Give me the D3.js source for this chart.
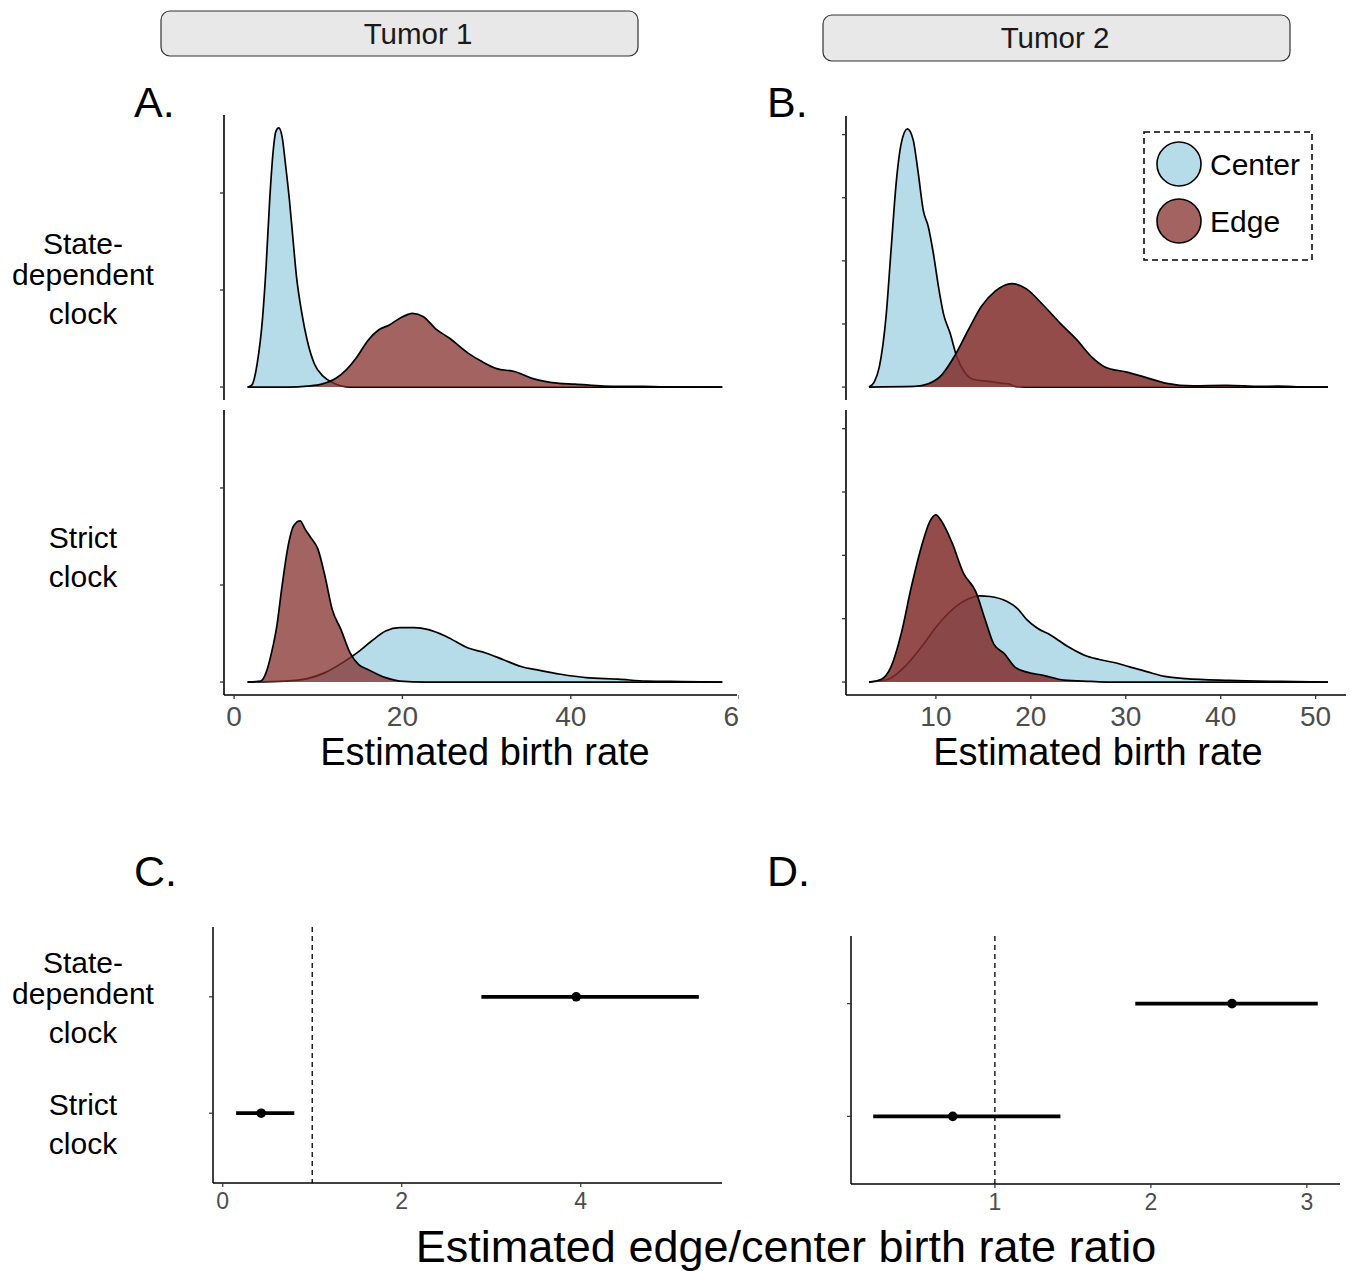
<!DOCTYPE html>
<html>
<head>
<meta charset="utf-8">
<script src="https://cdn.jsdelivr.net/npm/d3@7"></script>
<style>
  body { margin: 0; background: #fff; }
  svg { display: block; }
  text { font-family: "Liberation Sans", Arial, Helvetica, sans-serif; }
</style>
</head>
<body>
<svg id="fig" width="1351" height="1271"></svg>
<script>
// ---------- data ----------
const tumors = ["Tumor 1", "Tumor 2"];
const clocks = ["State-dependent clock", "Strict clock"];
const groups = ["Center", "Edge"];

// posterior densities of the birth rate, [rate, density]
const t1StateCenter = [[1.6,0],[2.1,0.002],[2.74,0.024],[3.39,0.072],[3.8,0.124],[4.23,0.193],[4.65,0.244],[4.95,0.263],[5.3,0.267],[5.7,0.258],[6.14,0.227],[6.57,0.193],[7.0,0.152],[7.41,0.114],[8.05,0.076],[8.69,0.048],[9.53,0.024],[10.6,0.011],[11.87,0.004],[13.8,0],[58,0]];
const t1StateEdge = [[1.6,0],[6.5,0],[8.7,0.001],[10.4,0.003],[12.1,0.009],[13.35,0.018],[14.6,0.031],[15.9,0.048],[17.2,0.059],[18.45,0.064],[19.7,0.071],[21.2,0.076],[22.5,0.0725],[23.95,0.060],[25.65,0.050],[27.8,0.035],[29.5,0.026],[31.2,0.019],[33.3,0.016],[35.4,0.009],[38.4,0.004],[40.5,0.003],[43.9,0.001],[46,0.0007],[48.6,0.0007],[51,0.0002],[58,0]];
const t1StrictCenter = [[1.6,0],[6.1,0.001],[8.7,0.0035],[10.8,0.0097],[12.9,0.020],[14.6,0.030],[16.3,0.042],[18.0,0.0525],[19.7,0.056],[21.4,0.056],[23.1,0.054],[25.2,0.047],[27.8,0.035],[29.9,0.030],[32.0,0.023],[34.1,0.016],[36.3,0.012],[38.8,0.008],[41.8,0.0045],[45.6,0.003],[49.0,0.001],[53.2,0.0005],[58,0]];
const t1StrictEdge = [[1.6,0],[3.17,0.001],[3.8,0.0097],[4.44,0.030],[5.08,0.058],[5.7,0.099],[6.35,0.137],[7.08,0.161],[7.84,0.166],[8.48,0.157],[9.1,0.149],[9.96,0.137],[10.8,0.109],[11.65,0.075],[12.7,0.054],[13.78,0.030],[14.8,0.018],[15.9,0.013],[18.0,0.0045],[19.7,0.001],[22.7,0],[58,0]];

const t2StateCenter = [[2.95,0],[3.5,0.004],[4.04,0.016],[4.75,0.056],[5.28,0.109],[5.82,0.162],[6.35,0.193],[7.0,0.2045],[7.6,0.196],[8.13,0.170],[8.67,0.140],[9.2,0.127],[9.73,0.106],[10.26,0.080],[10.8,0.058],[11.5,0.0426],[12.2,0.024],[13.1,0.011],[14.0,0.006],[15.6,0.0045],[17.0,0.003],[17.7,0.0025],[18.4,0.0003],[19.5,0],[51.3,0]];
const t2StateEdge = [[2.95,0],[7.75,0.0005],[9.2,0.0026],[10.6,0.0095],[12.0,0.025],[13.4,0.045],[14.8,0.064],[16.25,0.076],[18.0,0.082],[19.5,0.078],[21.3,0.065],[23.1,0.0505],[24.9,0.037],[26.4,0.024],[27.8,0.016],[30.0,0.012],[32.1,0.0077],[34.3,0.003],[37.1,0.001],[40.6,0.0013],[44.2,0.0005],[46,0.0008],[48,0.0002],[51.3,0]];
const t2StrictCenter = [[2.95,0],[4.9,0.002],[6.7,0.012],[8.5,0.028],[10.3,0.046],[12.1,0.0595],[13.5,0.066],[14.6,0.068],[15.7,0.0675],[17.5,0.0635],[18.6,0.058],[19.6,0.049],[20.7,0.0424],[22.1,0.037],[23.9,0.028],[25.7,0.021],[27.2,0.0178],[29.0,0.015],[30.4,0.012],[32.3,0.008],[34.1,0.0045],[36.3,0.0027],[40.9,0.0013],[46.3,0.0005],[51.3,0]];
const t2StrictEdge = [[2.95,0],[4.2,0.002],[5.27,0.012],[6.34,0.038],[7.41,0.075],[8.48,0.107],[9.38,0.127],[9.98,0.132],[10.6,0.127],[11.7,0.110],[12.9,0.086],[14.2,0.0714],[15.2,0.049],[16.1,0.030],[17.2,0.0225],[18.3,0.012],[19.5,0.008],[21.3,0.0053],[23.5,0.0015],[26.3,0.0005],[28,0],[51.3,0]];

// axis ticks
const rateTicksT1 = [0, 20, 40, 60];
const rateTicksT2 = [10, 20, 30, 40, 50];
const densityTicksT1 = [0, 0.1, 0.2];
const densityTicksT2 = [0, 0.05, 0.1, 0.15, 0.2];

// edge/center birth rate ratio: median and interval, by clock
const t1RatioMid  = [3.95, 0.43];
const t1RatioLow  = [2.89, 0.15];
const t1RatioHigh = [5.32, 0.80];
const t2RatioMid  = [2.52, 0.73];
const t2RatioLow  = [1.90, 0.22];
const t2RatioHigh = [3.07, 1.42];
const ratioTicksT1 = [0, 2, 4];
const ratioTicksT2 = [1, 2, 3];
const ratioReference = 1;

// ---------- style ----------
const centerFill = "#add8e6";
const edgeFill = "#812d2a";
const tickGray = "#4d4d4d";

const svg = d3.select("#fig");
const defs = svg.append("defs");

function expand(lo, hi, f = 0.05) { const d = (hi - lo) * f; return [lo - d, hi + d]; }

// ---------- facet strips ----------
function strip(x0, x1, y0, y1, tx, label) {
  svg.append("rect").attr("x", x0).attr("y", y0).attr("width", x1 - x0).attr("height", y1 - y0)
    .attr("rx", 9).attr("fill", "#e8e8e8").attr("stroke", "#333").attr("stroke-width", 1.2);
  svg.append("text").attr("x", tx).attr("y", (y0 + y1) / 2 + 10)
    .attr("text-anchor", "middle").attr("font-size", 29.5).attr("fill", "#1a1a1a").text(label);
}
strip(161, 638, 11, 56, 418, tumors[0]);
strip(823, 1290, 15, 61, 1055, tumors[1]);

// ---------- panel letters ----------
[["A.", 134, 117], ["B.", 767, 117], ["C.", 134, 886], ["D.", 767, 886]].forEach(([t, x, y]) =>
  svg.append("text").attr("x", x).attr("y", y).attr("font-size", 43).attr("fill", "#000").text(t));

// ---------- row labels ----------
function rowLabel(lines, baselines) {
  lines.forEach((l, i) => svg.append("text").attr("x", 83).attr("y", baselines[i])
    .attr("text-anchor", "middle").attr("font-size", 30).attr("fill", "#000").text(l));
}
rowLabel(["State-", "dependent", "clock"], [254, 285, 324]);
rowLabel(["Strict", "clock"], [548, 587]);
rowLabel(["State-", "dependent", "clock"], [973, 1004, 1043]);
rowLabel(["Strict", "clock"], [1115, 1154]);

// ---------- density panels ----------
function densityPanel(o) {
  if (o.clipRight) {
    defs.append("clipPath").attr("id", o.id).append("rect")
      .attr("x", 0).attr("y", 0).attr("width", o.clipRight).attr("height", 800);
  }
  const g = svg.append("g").attr("clip-path", o.clipRight ? `url(#${o.id})` : null);
  const x = d3.scaleLinear().domain(o.xDomain).range([o.left, o.right]);
  const yMax = d3.max(o.rows.flatMap(r => r.curves.flatMap(c => c.map(d => d[1]))));
  const yDom = expand(0, yMax);

  o.rows.forEach(row => {
    const y = d3.scaleLinear().domain(yDom).range([row.bottom, row.top]);
    const area = d3.area().x(d => x(d[0])).y0(y(0)).y1(d => y(d[1])).curve(d3.curveMonotoneX);
    const line = d3.line().x(d => x(d[0])).y(d => y(d[1])).curve(d3.curveMonotoneX);
    row.curves.forEach((c, j) => {
      g.append("path").attr("d", area(c))
        .attr("fill", j === 0 ? centerFill : edgeFill)
        .attr("fill-opacity", j === 0 ? 0.9 : o.edgeOpacity);
      g.append("path").attr("d", line(c)).attr("fill", "none")
        .attr("stroke", "#000").attr("stroke-width", 1.7).attr("stroke-linejoin", "round");
    });
    // y axis (density scale, unlabelled)
    g.append("line").attr("x1", o.left).attr("x2", o.left).attr("y1", row.top).attr("y2", row.bottom)
      .attr("stroke", "#000").attr("stroke-width", 1.6);
    o.yTicks.forEach(t => g.append("line").attr("x1", o.left - 4).attr("x2", o.left)
      .attr("y1", y(t)).attr("y2", y(t)).attr("stroke", "#333").attr("stroke-width", 1.3));
  });

  // x axis under the last row
  const yb = o.rows[o.rows.length - 1].bottom;
  g.append("line").attr("x1", o.left).attr("x2", o.right).attr("y1", yb).attr("y2", yb)
    .attr("stroke", "#000").attr("stroke-width", 1.6);
  o.xTicks.forEach(t => {
    g.append("line").attr("x1", x(t)).attr("x2", x(t)).attr("y1", yb).attr("y2", yb + 4)
      .attr("stroke", "#333").attr("stroke-width", 1.3);
    g.append("text").attr("x", x(t)).attr("y", yb + 31).attr("text-anchor", "middle")
      .attr("font-size", 28).attr("fill", tickGray).text(t);
  });
  svg.append("text").attr("x", o.titleX).attr("y", 765).attr("text-anchor", "middle")
    .attr("font-size", 38).attr("fill", "#000").text("Estimated birth rate");
}

densityPanel({
  id: "clipT1", clipRight: 739, titleX: 485,
  xDomain: [-1.2, 59.75], left: 224, right: 737,
  yTicks: densityTicksT1, xTicks: rateTicksT1, edgeOpacity: 0.74,
  rows: [
    { top: 115, bottom: 400, curves: [t1StateCenter, t1StateEdge] },
    { top: 410, bottom: 695, curves: [t1StrictCenter, t1StrictEdge] }
  ]
});

densityPanel({
  id: "clipT2", clipRight: null, titleX: 1098,
  xDomain: [0.53, 53.2], left: 846, right: 1346,
  yTicks: densityTicksT2, xTicks: rateTicksT2, edgeOpacity: 0.85,
  rows: [
    { top: 116, bottom: 400, curves: [t2StateCenter, t2StateEdge] },
    { top: 410, bottom: 695, curves: [t2StrictCenter, t2StrictEdge] }
  ]
});

// ---------- legend ----------
const legend = svg.append("g");
legend.append("rect").attr("x", 1144).attr("y", 132).attr("width", 168).attr("height", 128)
  .attr("fill", "#fff").attr("stroke", "#000").attr("stroke-width", 1.5).attr("stroke-dasharray", "6,4");
groups.forEach((gname, i) => {
  const cy = 164 + i * 57;
  legend.append("circle").attr("cx", 1179).attr("cy", cy).attr("r", 22)
    .attr("fill", i === 0 ? centerFill : edgeFill).attr("fill-opacity", i === 0 ? 0.9 : 0.74)
    .attr("stroke", "#000").attr("stroke-width", 1.6);
  legend.append("text").attr("x", 1210).attr("y", cy + 11).attr("font-size", 30).attr("fill", "#000").text(gname);
});

// ---------- ratio panels ----------
function ratioPanel(o) {
  const x = d3.scaleLinear().domain(expand(d3.min(o.low), d3.max(o.high))).range([o.left, o.right]);
  const y = d3.scalePoint().domain(clocks).range([o.top, o.bottom]).padding(0.6);
  const g = svg.append("g");

  // reference line at ratio 1
  g.append("line").attr("x1", x(ratioReference)).attr("x2", x(ratioReference))
    .attr("y1", o.top).attr("y2", o.bottom).attr("stroke", "#000").attr("stroke-width", 1.3)
    .attr("stroke-dasharray", "5,4");

  // axes
  g.append("line").attr("x1", o.left).attr("x2", o.left).attr("y1", o.top).attr("y2", o.bottom)
    .attr("stroke", "#000").attr("stroke-width", 1.5);
  g.append("line").attr("x1", o.left).attr("x2", o.right).attr("y1", o.bottom).attr("y2", o.bottom)
    .attr("stroke", "#000").attr("stroke-width", 1.5);
  clocks.forEach(c => g.append("line").attr("x1", o.left - 4).attr("x2", o.left)
    .attr("y1", y(c)).attr("y2", y(c)).attr("stroke", "#333").attr("stroke-width", 1.2));
  o.ticks.forEach(t => {
    g.append("line").attr("x1", x(t)).attr("x2", x(t)).attr("y1", o.bottom).attr("y2", o.bottom + 4)
      .attr("stroke", "#333").attr("stroke-width", 1.2);
    g.append("text").attr("x", x(t)).attr("y", o.bottom + 26).attr("text-anchor", "middle")
      .attr("font-size", 23).attr("fill", tickGray).text(t);
  });

  // intervals and medians
  clocks.forEach((c, i) => {
    g.append("line").attr("x1", x(o.low[i])).attr("x2", x(o.high[i])).attr("y1", y(c)).attr("y2", y(c))
      .attr("stroke", "#000").attr("stroke-width", 3.8);
    g.append("circle").attr("cx", x(o.mid[i])).attr("cy", y(c)).attr("r", 4.8).attr("fill", "#000");
  });
}

ratioPanel({ left: 213, right: 722, top: 927, bottom: 1183,
  mid: t1RatioMid, low: t1RatioLow, high: t1RatioHigh, ticks: ratioTicksT1 });
ratioPanel({ left: 851, right: 1340, top: 936, bottom: 1184,
  mid: t2RatioMid, low: t2RatioLow, high: t2RatioHigh, ticks: ratioTicksT2 });

svg.append("text").attr("x", 786).attr("y", 1262).attr("text-anchor", "middle")
  .attr("font-size", 45).attr("fill", "#000").text("Estimated edge/center birth rate ratio");
</script>
</body>
</html>
